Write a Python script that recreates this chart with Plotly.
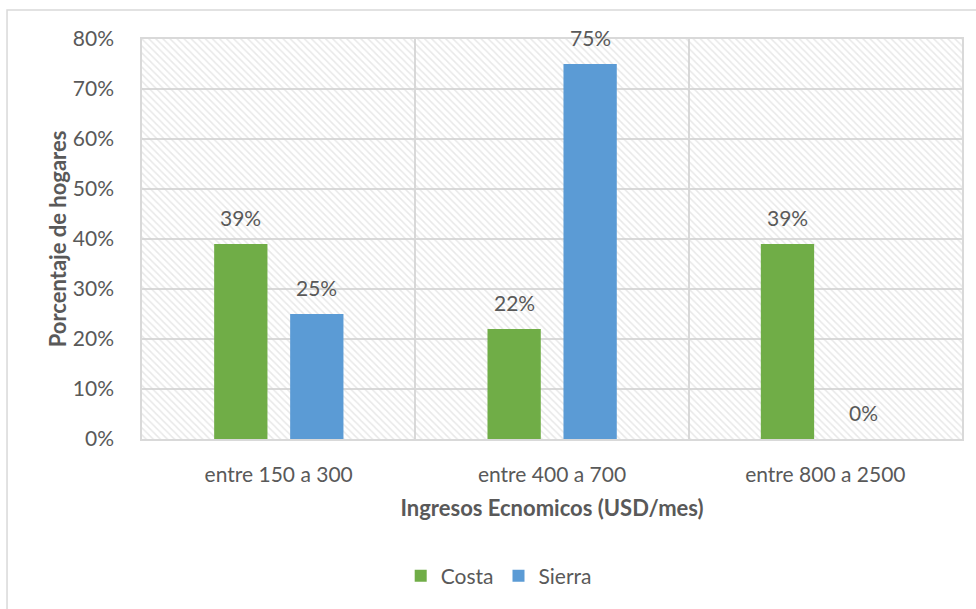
import plotly.graph_objects as go

categorias = ["entre 150 a 300", "entre 400 a 700", "entre 800 a 2500"]
costa = [39, 22, 39]
sierra = [25, 75, 0]
ticks_y = [0, 10, 20, 30, 40, 50, 60, 70, 80]

VERDE = "#70AD47"
AZUL = "#5B9BD5"
TEXTO = "#595959"
GRIS = "#D9D9D9"
FUENTE = "Lato, 'Open Sans', sans-serif"
TAM = 21
TAM_TITULO = 22

idx = list(range(len(categorias)))

fig = go.Figure()

# fondo rayado del área de trazado (transparente para dejar ver la cuadrícula)
fig.add_trace(go.Bar(
    x=[1], y=[ticks_y[-1]], width=[3],
    marker=dict(color="rgba(0,0,0,0)", line=dict(width=0),
                pattern=dict(shape="\\", fgcolor="#D2D2D2",
                             bgcolor="rgba(0,0,0,0)", fillmode="overlay",
                             size=5, solidity=0.3)),
    hoverinfo="skip", showlegend=False,
))

fig.add_trace(go.Bar(
    x=idx, y=costa, name="Costa", width=0.195, offset=-0.236,
    marker=dict(color=VERDE, line=dict(width=0)),
))
fig.add_trace(go.Bar(
    x=idx, y=sierra, name="Sierra", width=0.195, offset=0.042,
    marker=dict(color=AZUL, line=dict(width=0)),
))

# etiquetas de valor sobre cada barra
for i in idx:
    for val, off in ((costa[i], -0.1385), (sierra[i], 0.1395)):
        fig.add_annotation(
            x=i + off, y=val, text=f"{val}%", showarrow=False,
            yanchor="middle", yshift=27,
            font=dict(family=FUENTE, size=TAM, color=TEXTO),
        )

# marco exterior del gráfico
fig.add_shape(type="rect", xref="paper", yref="paper",
              x0=-0.1646, x1=1.03, y0=-0.45, y1=1.0725,
              line=dict(color="#D9D9D9", width=1.5), layer="below")

fig.update_layout(
    width=976, height=609,
    margin=dict(l=142, r=14, t=39, b=170),
    paper_bgcolor="white", plot_bgcolor="white",
    barmode="overlay",
    font=dict(family=FUENTE, size=TAM, color=TEXTO),
    showlegend=True,
    legend=dict(orientation="h", x=0.435, xanchor="center", y=-0.3425,
                yanchor="middle", font=dict(size=TAM, color=TEXTO),
                itemwidth=30, traceorder="normal"),
    xaxis=dict(
        range=[-0.5, 2.5], tickmode="array", tickvals=idx, ticktext=categorias,
        showgrid=False, zeroline=False, ticks="", ticklabelstandoff=16,
        showline=True, mirror=True, linecolor=GRIS, linewidth=1.5,
        minor=dict(tickmode="array", tickvals=[0.5, 1.5], showgrid=True,
                   gridcolor=GRIS, gridwidth=1.5, ticks=""),
        title=dict(text="<b>Ingresos Ecnomicos (USD/mes)</b>",
                   font=dict(size=TAM_TITULO, color=TEXTO), standoff=16),
    ),
    yaxis=dict(
        range=[0, 80], tickmode="array", tickvals=ticks_y,
        ticktext=[f"{v}%" for v in ticks_y],
        showgrid=True, gridcolor=GRIS, gridwidth=1.5, zeroline=False,
        ticks="", ticklabelstandoff=22,
        showline=True, mirror=True, linecolor=GRIS, linewidth=1.5,
        title=dict(text="<b>Porcentaje de hogares</b>",
                   font=dict(size=TAM_TITULO, color=TEXTO), standoff=0),
    ),
)

fig.write_html("out.html")
